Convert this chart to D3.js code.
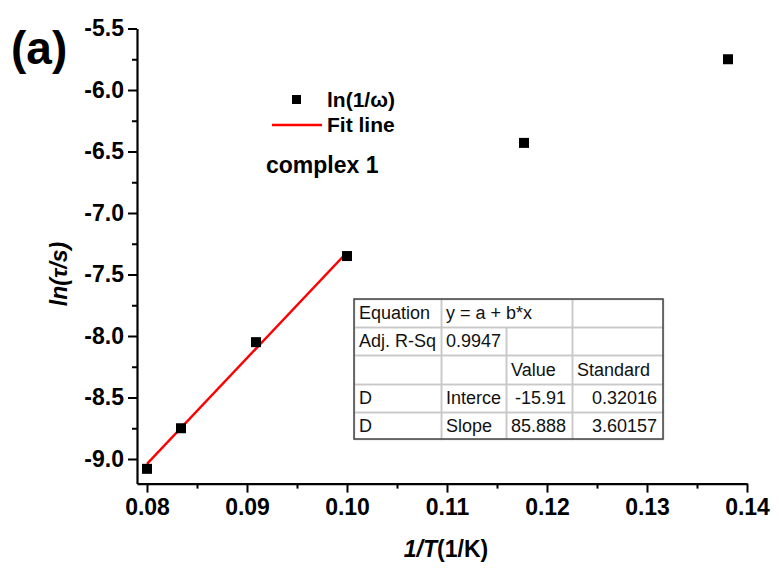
<!DOCTYPE html>
<html>
<head>
<meta charset="utf-8">
<script src="https://cdn.jsdelivr.net/npm/d3@7"></script>
<style>
  body { margin: 0; background: #fff; }
  svg { display: block; font-family: "Liberation Sans", Arial, sans-serif; }
</style>
</head>
<body>
<div id="chart"></div>
<script>
// measured points, 1/T vs ln(tau)
var invT = [0.08, 0.0834, 0.0909, 0.1, 0.1177, 0.1381];
var lnTau = [-9.08, -8.75, -8.05, -7.35, -6.43, -5.75];

// fit line ends
var fitX = [0.08, 0.1];
var fitY = [-9.04, -7.32];

var xMajor = [0.08, 0.09, 0.10, 0.11, 0.12, 0.13, 0.14];
var xMinor = [0.085, 0.095, 0.105, 0.115, 0.125, 0.135];
var yMajor = [-9.0, -8.5, -8.0, -7.5, -7.0, -6.5, -6.0, -5.5];
var yMinor = [-8.75, -8.25, -7.75, -7.25, -6.75, -6.25, -5.75];

// fit result table
var tableRows = [
  ["Equation", "y = a + b*x", null, ""],
  ["Adj. R-Sq", "0.9947", "", ""],
  ["", "", "Value", "Standard"],
  ["D", "Interce", "-15.91", "0.32016"],
  ["D", "Slope", "85.888", "3.60157"]
];

var width = 779, height = 568;

var svg = d3.select("#chart").append("svg")
    .attr("width", width)
    .attr("height", height);

var x = d3.scaleLinear().domain([0.079, 0.14]).range([137, 747]);
var y = d3.scaleLinear().domain([-9.2, -5.5]).range([483.6, 28.5]);

var fmt = d3.format(".2f");

// minor ticks first
svg.append("g")
    .attr("transform", "translate(0," + y.range()[0] + ")")
    .call(d3.axisBottom(x).tickValues(xMinor).tickSize(5).tickFormat(""))
    .call(function(g){ g.select(".domain").remove(); g.selectAll("line").attr("stroke-width", 2); });
svg.append("g")
    .attr("transform", "translate(" + x.range()[0] + ",0)")
    .call(d3.axisLeft(y).tickValues(yMinor).tickSize(5).tickFormat(""))
    .call(function(g){ g.select(".domain").remove(); g.selectAll("line").attr("stroke-width", 2); });

var xAxis = svg.append("g")
    .attr("transform", "translate(0," + y.range()[0] + ")")
    .call(d3.axisBottom(x).tickValues(xMajor).tickSize(9).tickSizeOuter(0).tickPadding(6).tickFormat(fmt));
xAxis.select(".domain").attr("stroke-width", 2.2);
xAxis.selectAll("line").attr("stroke-width", 2);
xAxis.selectAll("text")
    .attr("font-family", "Liberation Sans, Arial, sans-serif")
    .attr("font-size", 23).attr("font-weight", "bold").attr("fill", "#000")
    .text(function(d){ return fmt(d); });

var yAxis = svg.append("g")
    .attr("transform", "translate(" + x.range()[0] + ",0)")
    .call(d3.axisLeft(y).tickValues(yMajor).tickSize(9).tickSizeOuter(0).tickPadding(4));
yAxis.select(".domain").attr("stroke-width", 2.2);
yAxis.selectAll("line").attr("stroke-width", 2);
yAxis.selectAll("text")
    .attr("font-family", "Liberation Sans, Arial, sans-serif")
    .attr("font-size", 23).attr("font-weight", "bold").attr("fill", "#000")
    .text(function(d){ return d3.format(".1f")(d).replace("−", "-"); });

// axis titles
var xt = svg.append("text")
    .attr("x", 446).attr("y", 557)
    .attr("text-anchor", "middle")
    .attr("font-size", 23).attr("font-weight", "bold");
xt.append("tspan").attr("font-style", "italic").text("1/T");
xt.append("tspan").text("(1/K)");

svg.append("text")
    .attr("transform", "translate(67,274) rotate(-90)")
    .attr("text-anchor", "middle")
    .attr("font-size", 23).attr("font-weight", "bold").attr("font-style", "italic")
    .text("ln(τ/s)");

svg.append("text")
    .attr("x", 11).attr("y", 64)
    .attr("font-size", 46).attr("font-weight", "bold")
    .text("(a)");

// fit line
var pts = invT.map(function(d, i){ return [d, lnTau[i]]; });
var fitPts = fitX.map(function(d, i){ return [d, fitY[i]]; });

svg.append("path")
    .datum(fitPts)
    .attr("fill", "none")
    .attr("stroke", "#ff0000")
    .attr("stroke-width", 2.4)
    .attr("d", d3.line().x(function(d){ return x(d[0]); }).y(function(d){ return y(d[1]); }));

var ms = 10;
svg.selectAll("rect.pt")
    .data(pts)
    .enter().append("rect")
    .attr("class", "pt")
    .attr("x", function(d){ return x(d[0]) - ms / 2; })
    .attr("y", function(d){ return y(d[1]) - ms / 2; })
    .attr("width", ms).attr("height", ms)
    .attr("fill", "#000");

// legend
var leg = svg.append("g");
leg.append("rect").attr("x", 292).attr("y", 95).attr("width", 9).attr("height", 9).attr("fill", "#000");
leg.append("text").attr("x", 327).attr("y", 107).attr("font-size", 21).attr("font-weight", "bold").text("ln(1/ω)");
leg.append("line").attr("x1", 272).attr("x2", 322).attr("y1", 125).attr("y2", 125)
    .attr("stroke", "#ff0000").attr("stroke-width", 2.4);
leg.append("text").attr("x", 327).attr("y", 132).attr("font-size", 21).attr("font-weight", "bold").text("Fit line");
leg.append("text").attr("x", 266).attr("y", 173).attr("font-size", 23).attr("font-weight", "bold").text("complex 1");

// table
var colX = [354, 441, 506, 572, 663];
var rowY = [299, 327, 355, 384, 412, 439];
var tbl = svg.append("g");

tableRows.forEach(function(row, r){
  row.forEach(function(cell, c){
    if (cell === null) return;
    var span = (row[c + 1] === null) ? 2 : 1;
    var x0 = colX[c], x1 = colX[c + span];
    tbl.append("rect")
        .attr("x", x0 + 0.5).attr("y", rowY[r] + 0.5)
        .attr("width", x1 - x0).attr("height", rowY[r + 1] - rowY[r])
        .attr("fill", "none").attr("stroke", "#c8c8c8").attr("stroke-width", 1.5);
    var num = c >= 2 && r >= 3;
    tbl.append("text")
        .attr("x", num ? x1 - 6 : x0 + 5)
        .attr("y", (rowY[r] + rowY[r + 1]) / 2 + 6)
        .attr("text-anchor", num ? "end" : "start")
        .attr("font-size", 18)
        .attr("fill", "#111")
        .text(cell);
  });
});
tbl.append("rect")
    .attr("x", colX[0]).attr("y", rowY[0])
    .attr("width", colX[4] - colX[0]).attr("height", rowY[5] - rowY[0])
    .attr("fill", "none").attr("stroke", "#444").attr("stroke-width", 1.5);
</script>
</body>
</html>
